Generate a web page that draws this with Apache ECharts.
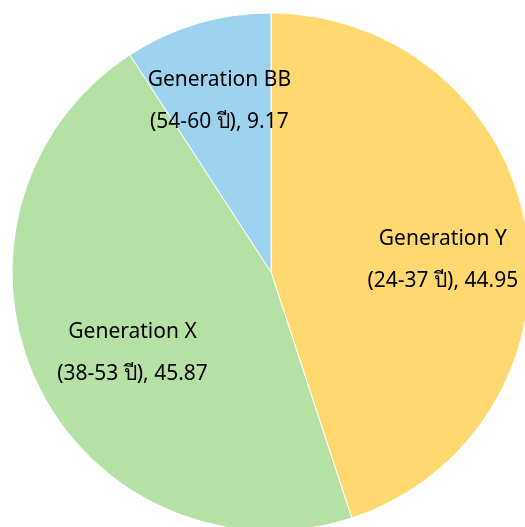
<!DOCTYPE html>
<html>
<head>
    <meta charset="utf-8">
    <title>ECharts</title>
    <script src="https://cdn.jsdelivr.net/npm/echarts@6/dist/echarts.min.js"></script>
    <style>
        html, body { margin: 0; padding: 0; background: #fff; }
    </style>
</head>
<body>
    <div id="main" style="width: 525px;height:527px;"></div>
    <script type="text/javascript">

// data
var names = ['Generation Y', 'Generation X', 'Generation BB'];
var ranges = ['(24-37 ปี)', '(38-53 ปี)', '(54-60 ปี)'];
var values = [44.95, 45.87, 9.17];
var colors = ['#FFD96F', '#B6E1A5', '#9DD3EF'];
// label nudges, px
var offsets = [[41, 9], [-19, 24], [-14, -44]];

var pieData = names.map(function (n, i) {
    return {
        name: n,
        value: values[i],
        range: ranges[i],
        itemStyle: { color: colors[i] },
        label: { offset: offsets[i] }
    };
});

var myChart = echarts.init(document.getElementById('main'));

var option = {
    backgroundColor: '#ffffff',
    animation: false,
    series: [{
        type: 'pie',
        center: [271, 272],
        radius: [0, 259],
        startAngle: 90,
        clockwise: true,
        itemStyle: {
            borderColor: '#ffffff',
            borderWidth: 1
        },
        label: {
            show: true,
            position: 'inside',
            color: '#000000',
            fontSize: 21,
            fontFamily: 'Noto Sans, DejaVu Sans, sans-serif',
            lineHeight: 42,
            formatter: function (p) {
                return p.name + '\n' + p.data.range + ', ' + p.value.toFixed(2);
            }
        },
        labelLine: { show: false },
        data: pieData
    }]
};

myChart.setOption(option);

    </script>
</body>
</html>
